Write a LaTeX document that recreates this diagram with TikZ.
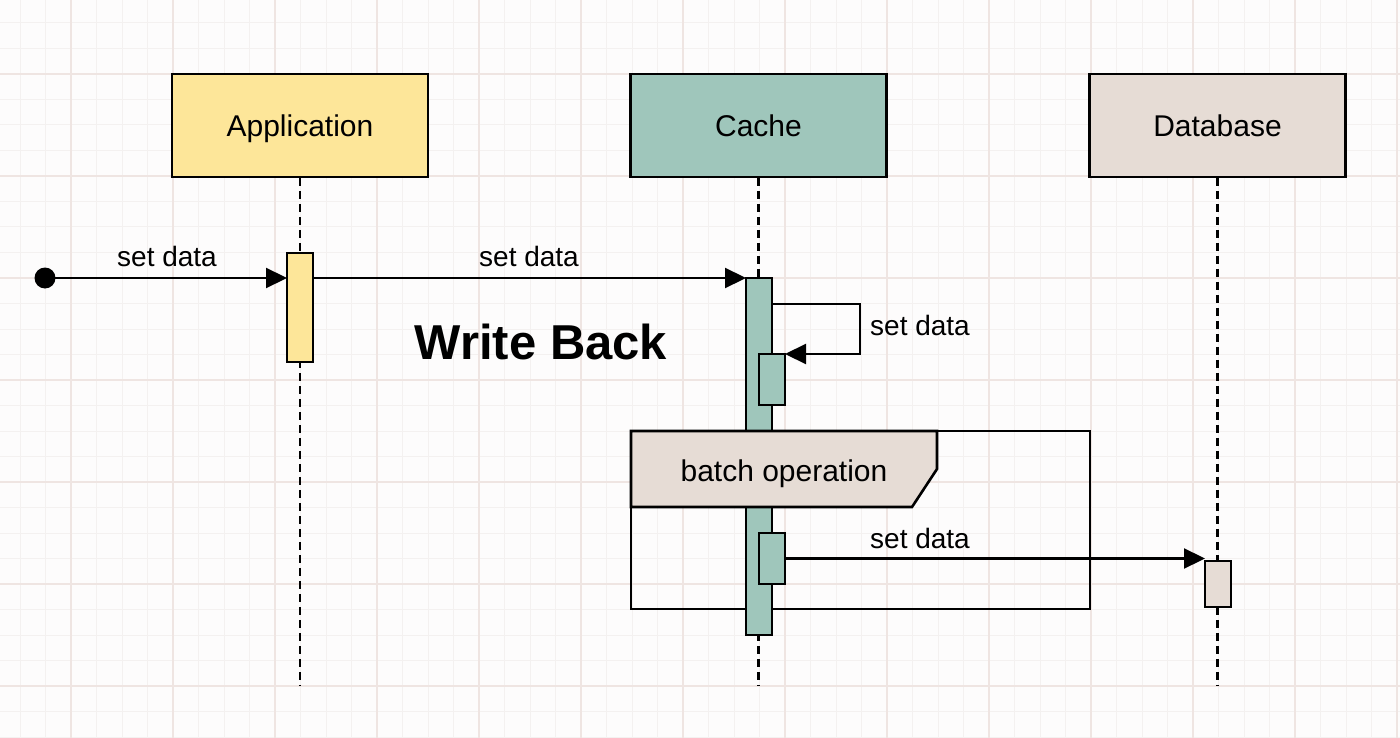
\documentclass[tikz,border=0pt]{standalone}
\usepackage{fontspec}
\setmainfont{Liberation Sans}
\usetikzlibrary{arrows.meta}
\definecolor{appc}{HTML}{FDE699}
\definecolor{cachec}{HTML}{9FC6BB}
\definecolor{dbc}{HTML}{E6DCD5}
\definecolor{gminor}{HTML}{F4F1F0}
\definecolor{gmajor}{HTML}{EFE5E2}
\definecolor{bgc}{HTML}{FDFCFC}
\begin{document}
\begin{tikzpicture}[x=1pt,y=-1pt,
  head/.style={draw=black,line width=2.8pt,minimum width=256pt,minimum height=103pt,inner sep=0pt,text height=21.5pt,text depth=0pt,font=\fontsize{30}{32}\selectfont},
  act/.style={draw=black,line width=2.6pt,inner sep=0pt,outer sep=0pt,minimum width=26pt},
  life/.style={line width=2.2pt,dash pattern=on 8pt off 5pt},
  msg/.style={line width=2.2pt,-{Triangle[length=21pt,width=20pt]}},
  lbl/.style={font=\fontsize{28}{30}\selectfont,inner sep=0pt},
  frm/.style={draw=black,line width=2.6pt}
]
\useasboundingbox (0,0) rectangle (1400,738);
\fill[bgc] (0,0) rectangle (1400,738);
% grid
\foreach \i in {0,...,55} \draw[gminor,line width=1pt] ({20+\i*25.5},0) -- ({20+\i*25.5},738);
\foreach \i in {0,...,29} \draw[gminor,line width=1pt] (0,{-2.5+\i*25.5}) -- (1400,{-2.5+\i*25.5});
\foreach \i in {0,...,13} \draw[gmajor,line width=1.1pt] ({71+\i*102},0) -- ({71+\i*102},738);
\foreach \i in {0,...,7} \draw[gmajor,line width=1.1pt] (0,{-28+\i*102}) -- (1400,{-28+\i*102});

% headers
\node[head,fill=appc] (app) at (300,125.5) {Application};
\node[head,fill=cachec] (cache) at (758.5,125.5) {Cache};
\node[head,fill=dbc] (db) at (1217.5,125.5) {Database};

% lifelines
\coordinate (append) at (300,686);
\coordinate (cacheend) at (758.5,686);
\coordinate (dbend) at (1217.5,686);
\draw[life] (app.south) -- (append);
\draw[life] (cache.south) -- (cacheend);
\draw[life] (db.south) -- (dbend);

% title
\node[font=\bfseries\fontsize{49}{52}\selectfont,inner sep=0pt,text height=35pt,text depth=0pt] (title) at (541,342) {Write Back};

% frame
\draw[frm] (631,431) rectangle (1090,609);

% activations
\node[act,fill=appc,minimum height=109pt] (appact) at (300,307.5) {};
\node[act,fill=cachec,minimum height=357pt] (cacheact) at (759,456.5) {};

% batch tab
\draw[frm,fill=dbc] (631,431) -- (937,431) -- (937,469) -- (912,507) -- (631,507) -- cycle;
\node[font=\fontsize{30}{32}\selectfont,inner sep=0pt,text height=21.5pt,text depth=0pt] (tab) at (784,471) {batch operation};

\node[act,fill=cachec,minimum height=51pt] (selfact) at (772,379.5) {};
\node[act,fill=cachec,minimum height=51pt] (batchact) at (772,558.5) {};
\node[act,fill=dbc,minimum height=46pt] (dbact) at (1218,584) {};

% start
\fill (45,278) circle (10.5pt);
\coordinate (start) at (45,278);

% messages
\draw[msg] (start) -- (appact.west |- start);
\node[lbl] (l1) at (167,256) {set data};
\draw[msg] (appact.east |- start) -- (cacheact.west |- start);
\node[lbl] (l2) at (529,256) {set data};
\draw[msg] (cacheact.east |- 0,304) -- (860,304) -- (860,354) -- (selfact.north east);
\node[lbl] (l3) at (920,325) {set data};
\draw[msg] (batchact.east) -- (dbact.west |- batchact.east);
\node[lbl] (l4) at (920,538) {set data};
\end{tikzpicture}
\end{document}
